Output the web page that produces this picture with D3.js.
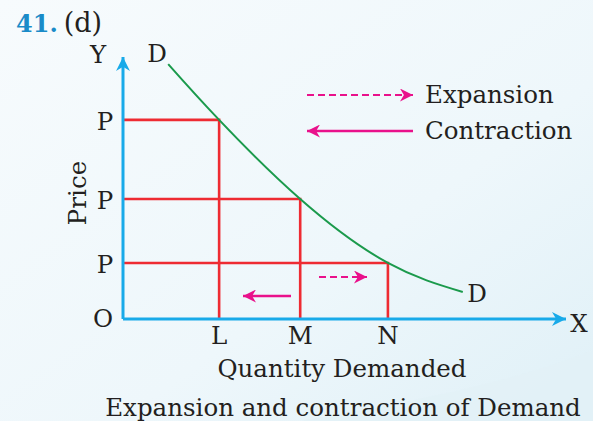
<!DOCTYPE html>
<html>
<head>
<meta charset="utf-8">
<script src="https://cdn.jsdelivr.net/npm/d3@7"></script>
<style>
html,body{margin:0;padding:0;background:#f2f9fc;}
svg{display:block;}
text{font-family:"DejaVu Serif","Liberation Serif",serif;fill:#231f20;}
</style>
</head>
<body>
<svg id="chart" width="593" height="421"></svg>
<script>
// ---- data ----
const quantityPoints = ["L", "M", "N"];
const quantityValues = [2.17, 4.0, 5.98];
const priceLabels = ["P", "P", "P"];
const priceValues = [7.6, 4.58, 2.14];
const curveQ = [1.02, 2.17, 4.0, 5.98, 7.67];
const curveP = [9.73, 7.6, 4.58, 2.14, 1.03];
const legendLabels = ["Expansion", "Contraction"];
const titleNum = "41.";
const titleOpt = "(d)";
const xTitle = "Quantity Demanded";
const yTitle = "Price";
const caption = "Expansion and contraction of Demand";

const svg = d3.select("#chart");
const W = 593, H = 421;

// background gradient
const defs = svg.append("defs");
const g1 = defs.append("linearGradient").attr("id","bg").attr("x1","0").attr("y1","0").attr("x2","1").attr("y2","1");
g1.append("stop").attr("offset","0").attr("stop-color","#f7fbfd");
g1.append("stop").attr("offset","0.6").attr("stop-color","#eef7fb");
g1.append("stop").attr("offset","1").attr("stop-color","#dff0f7");
svg.append("rect").attr("width",W).attr("height",H).attr("fill","url(#bg)");
svg.append("path").attr("d","M300,421 C420,400 520,380 593,350 L593,421 Z").attr("fill","#e2f1f7").attr("opacity",0.7);

const blue = "#18aae9", red = "#ee2b32", green = "#1b9a4c", magenta = "#e9118b";

function arrowMarker(id, color, w, h){
  defs.append("marker").attr("id",id).attr("viewBox","0 0 10 10").attr("refX",10).attr("refY",5)
    .attr("markerUnits","userSpaceOnUse").attr("markerWidth",w).attr("markerHeight",h).attr("orient","auto")
    .append("path").attr("d","M0,0 L10,5 L0,10 L3,5 Z").attr("fill",color);
}
arrowMarker("axArrow", blue, 18, 14);
arrowMarker("mgArrow", magenta, 18, 13);

// scales
const x = d3.scaleLinear().domain([0,10]).range([123,566]);
const y = d3.scaleLinear().domain([0,10]).range([319,57]);

// red guide lines
quantityValues.forEach((q,i)=>{
  const p = priceValues[i];
  svg.append("path")
    .attr("d", d3.line()([[x(0),y(p)],[x(q),y(p)],[x(q),y(0)]]))
    .attr("fill","none").attr("stroke",red).attr("stroke-width",2.6);
});

// demand curve
const line = d3.line().x(d=>x(d[0])).y(d=>y(d[1])).curve(d3.curveNatural);
svg.append("path").datum(curveQ.map((q,i)=>[q,curveP[i]]))
  .attr("d",line).attr("fill","none").attr("stroke",green).attr("stroke-width",2);

// axes
svg.append("line").attr("x1",x(0)).attr("y1",y(0)).attr("x2",x(0)).attr("y2",y(10))
  .attr("stroke",blue).attr("stroke-width",3).attr("marker-end","url(#axArrow)");
svg.append("line").attr("x1",x(0)).attr("y1",y(0)).attr("x2",x(10)).attr("y2",y(0))
  .attr("stroke",blue).attr("stroke-width",3).attr("marker-end","url(#axArrow)");

const fs = 24.5;
// axis labels
svg.append("text").attr("x",x(0)-25).attr("y",y(10)+6).attr("text-anchor","middle").attr("font-size",fs).text("Y");
svg.append("text").attr("x",x(10)+13).attr("y",y(0)+13).attr("text-anchor","middle").attr("font-size",fs).text("X");
svg.append("text").attr("x",x(0)-20).attr("y",y(0)+8).attr("text-anchor","middle").attr("font-size",fs).text("O");
svg.append("text").attr("x",157).attr("y",62).attr("text-anchor","middle").attr("font-size",fs).text("D");
svg.append("text").attr("x",477).attr("y",302).attr("text-anchor","middle").attr("font-size",fs).text("D");

priceValues.forEach((p,i)=>{
  svg.append("text").attr("x",x(0)-18).attr("y",y(p)+10).attr("text-anchor","middle").attr("font-size",fs).text(priceLabels[i]);
});
quantityValues.forEach((q,i)=>{
  svg.append("text").attr("x",x(q)).attr("y",y(0)+25).attr("text-anchor","middle").attr("font-size",fs).text(quantityPoints[i]);
});

svg.append("text").attr("transform","translate(86,193) rotate(-90)").attr("text-anchor","middle").attr("font-size",fs).text(yTitle);
svg.append("text").attr("x",342).attr("y",377).attr("text-anchor","middle").attr("font-size",fs).text(xTitle);
svg.append("text").attr("x",343).attr("y",416).attr("text-anchor","middle").attr("font-size",fs).text(caption);

// title
const t = svg.append("text").attr("x",16).attr("y",32).attr("font-size",24);
t.append("tspan").attr("font-weight","bold").style("fill","#1a8bc8").text(titleNum);
t.append("tspan").attr("dx",6).attr("font-size",27).text(titleOpt);

// legend
svg.append("line").attr("x1",307).attr("y1",95).attr("x2",413).attr("y2",95)
  .attr("stroke",magenta).attr("stroke-width",2.2).attr("stroke-dasharray","7,4").attr("marker-end","url(#mgArrow)");
svg.append("line").attr("x1",413).attr("y1",131).attr("x2",307).attr("y2",131)
  .attr("stroke",magenta).attr("stroke-width",2.6).attr("marker-end","url(#mgArrow)");
svg.append("text").attr("x",425).attr("y",103).attr("font-size",fs).text(legendLabels[0]);
svg.append("text").attr("x",425).attr("y",139).attr("font-size",fs).text(legendLabels[1]);

// small arrows in chart
svg.append("line").attr("x1",319).attr("y1",277).attr("x2",367).attr("y2",277)
  .attr("stroke",magenta).attr("stroke-width",2.2).attr("stroke-dasharray","7,4").attr("marker-end","url(#mgArrow)");
svg.append("line").attr("x1",291).attr("y1",296).attr("x2",243).attr("y2",296)
  .attr("stroke",magenta).attr("stroke-width",2.6).attr("marker-end","url(#mgArrow)");
</script>
</body>
</html>
